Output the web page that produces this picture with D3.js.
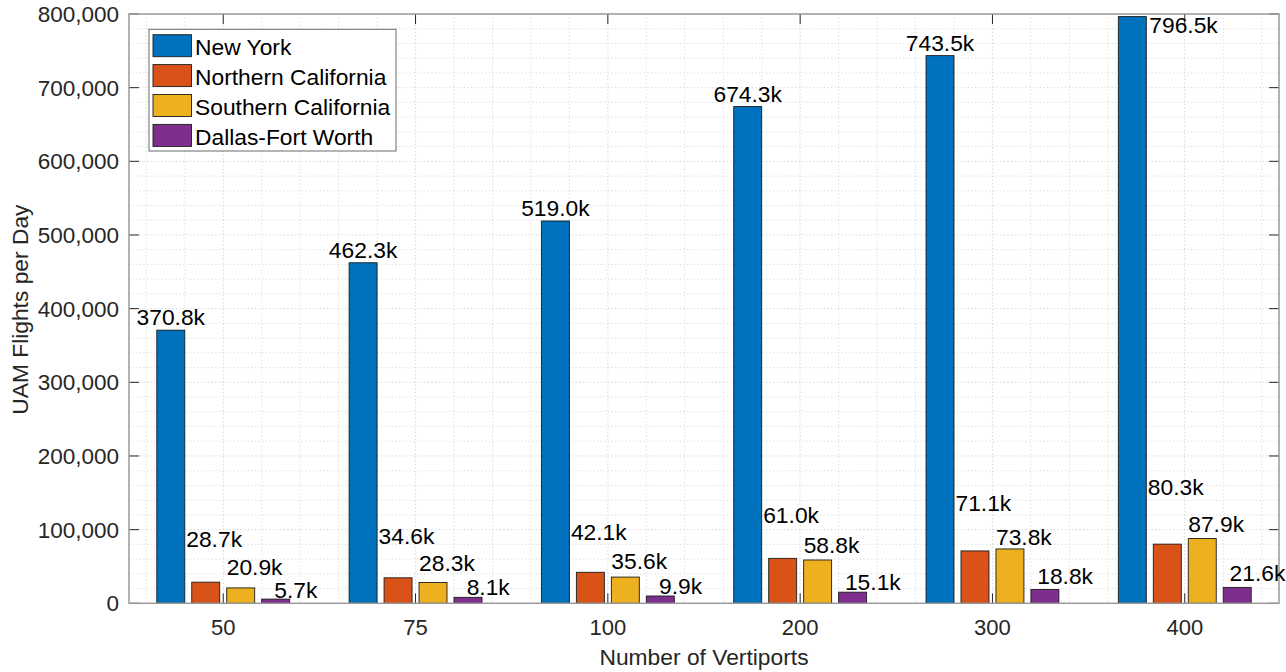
<!DOCTYPE html>
<html>
<head>
<meta charset="utf-8">
<script src="https://cdn.jsdelivr.net/npm/d3@7"></script>
<style>
  html, body { margin: 0; padding: 0; background: #fff; }
  svg { display: block; font-family: "Liberation Sans", Arial, Helvetica, sans-serif; }
</style>
</head>
<body>
<svg id="chart" width="1286" height="672"></svg>
<script>
// ---------------- data ----------------
const categories = ["50", "75", "100", "200", "300", "400"];
const seriesNames = ["New York", "Northern California", "Southern California", "Dallas-Fort Worth"];
const newYork = [370800, 462300, 519000, 674300, 743500, 796500];
const northernCalifornia = [28700, 34600, 42100, 61000, 71100, 80300];
const southernCalifornia = [20900, 28300, 35600, 58800, 73800, 87900];
const dallasFortWorth = [5700, 8100, 9900, 15100, 18800, 21600];
const yTickValues = [0, 100000, 200000, 300000, 400000, 500000, 600000, 700000, 800000];

// label baselines (in flights)
const newYorkLabelAt = [377500, 469200, 525400, 681200, 750200, 773800];
const northernLabelAt = [76800, 80100, 85900, 109400, 125300, 147000];
const southernLabelAt = [38400, 43900, 46600, 67900, 79100, 96400];
const dallasLabelAt = [7600, 10900, 12600, 18100, 25800, 30700];

const seriesValues = [newYork, northernCalifornia, southernCalifornia, dallasFortWorth];
const labelAt = [newYorkLabelAt, northernLabelAt, southernLabelAt, dallasLabelAt];
const colors = ["#0072BD", "#D95319", "#EDB120", "#7E2F8E"];

// ---------------- layout ----------------
const W = 1286, H = 672;
const plot = { left: 129, right: 1279, top: 14, bottom: 603.3 };
const svg = d3.select("#chart");

const x = d3.scaleLinear().domain([0.51, 6.49]).range([plot.left, plot.right]);
const y = d3.scaleLinear().domain([0, 800000]).range([plot.bottom, plot.top]);

const nS = seriesNames.length;
const groupWidth = Math.min(0.8, nS / (nS + 1.5));
const step = groupWidth / nS;
const barW = 0.8 * step;
const offset = s => (s - (nS - 1) / 2) * step;

// ---------------- grid ----------------
const grid = svg.append("g");
const minorY = d3.range(0, 800001, 20000).filter(v => v % 100000 !== 0);
const minorX = d3.range(0.6, 6.45, 0.2).filter(v => Math.abs(v - Math.round(v)) > 0.01);
grid.selectAll(".my").data(minorY).join("line")
  .attr("x1", plot.left).attr("x2", plot.right)
  .attr("y1", d => y(d)).attr("y2", d => y(d))
  .attr("stroke", "#d9d9d9").attr("stroke-width", 1).attr("stroke-dasharray", "1.2,2.4");
grid.selectAll(".mx").data(minorX).join("line")
  .attr("y1", plot.top).attr("y2", plot.bottom)
  .attr("x1", d => x(d)).attr("x2", d => x(d))
  .attr("stroke", "#d9d9d9").attr("stroke-width", 1).attr("stroke-dasharray", "1.2,2.4");
grid.selectAll(".Mx").data(categories.map((c, i) => i + 1)).join("line")
  .attr("y1", plot.top).attr("y2", plot.bottom)
  .attr("x1", d => x(d)).attr("x2", d => x(d))
  .attr("stroke", "#d0d0d0").attr("stroke-width", 1).attr("stroke-dasharray", "1.2,2.4");
grid.selectAll(".My").data(yTickValues).join("line")
  .attr("x1", plot.left).attr("x2", plot.right)
  .attr("y1", d => y(d)).attr("y2", d => y(d))
  .attr("stroke", "#d0d0d0").attr("stroke-width", 1).attr("stroke-dasharray", "1.2,2.4");

// ---------------- bars ----------------
const barsG = svg.append("g");
seriesValues.forEach((vals, s) => {
  barsG.append("g").selectAll("rect").data(vals).join("rect")
    .attr("x", (d, i) => x(i + 1 + offset(s) - barW / 2))
    .attr("width", x(barW) - x(0))
    .attr("y", d => y(d))
    .attr("height", d => y(0) - y(d))
    .attr("fill", colors[s])
    .attr("stroke", "#1c1c1c").attr("stroke-width", 0.9);
});

// ---------------- axes ----------------
const axG = svg.append("g");
const tickLen = 10;
const tickColor = "#262626";
// y ticks (left + right)
yTickValues.forEach(v => {
  axG.append("line").attr("x1", plot.left).attr("x2", plot.left + tickLen)
    .attr("y1", y(v)).attr("y2", y(v)).attr("stroke", tickColor).attr("stroke-width", 1);
  axG.append("line").attr("x1", plot.right - tickLen).attr("x2", plot.right)
    .attr("y1", y(v)).attr("y2", y(v)).attr("stroke", tickColor).attr("stroke-width", 1);
});
// x ticks (bottom + top)
categories.forEach((c, i) => {
  axG.append("line").attr("x1", x(i + 1)).attr("x2", x(i + 1))
    .attr("y1", plot.bottom).attr("y2", plot.bottom - tickLen).attr("stroke", tickColor).attr("stroke-width", 1);
  axG.append("line").attr("x1", x(i + 1)).attr("x2", x(i + 1))
    .attr("y1", plot.top).attr("y2", plot.top + tickLen).attr("stroke", tickColor).attr("stroke-width", 1);
});
axG.append("rect")
  .attr("x", plot.left).attr("y", plot.top)
  .attr("width", plot.right - plot.left).attr("height", plot.bottom - plot.top)
  .attr("fill", "none").attr("stroke", "#9a9a9a").attr("stroke-width", 1.5);

// tick labels
const fmt = d3.format(",");
axG.selectAll(".ytl").data(yTickValues).join("text")
  .attr("x", plot.left - 10).attr("y", d => y(d)).attr("dy", "0.35em")
  .attr("text-anchor", "end").attr("font-size", "22.5px").attr("fill", "#262626")
  .text(d => fmt(d));
axG.selectAll(".xtl").data(categories).join("text")
  .attr("x", (d, i) => x(i + 1)).attr("y", 635)
  .attr("text-anchor", "middle").attr("font-size", "22px").attr("fill", "#262626")
  .text(d => d);

// axis titles
svg.append("text")
  .attr("x", (plot.left + plot.right) / 2).attr("y", 664.5)
  .attr("text-anchor", "middle").attr("font-size", "22.8px").attr("fill", "#262626")
  .text("Number of Vertiports");
svg.append("text")
  .attr("transform", `translate(28.3,${(plot.top + plot.bottom) / 2 + 1}) rotate(-90)`)
  .attr("text-anchor", "middle").attr("font-size", "22.8px").attr("fill", "#262626")
  .text("UAM Flights per Day");

// ---------------- value labels ----------------
const labG = svg.append("g").attr("font-size", "22.8px").attr("fill", "#000");
const kfmt = v => (v / 1000).toFixed(1) + "k";
const NBSP = "\u00A0";
seriesValues.forEach((vals, s) => {
  vals.forEach((v, i) => {
    const left = i + 1 + offset(s) - barW / 2;
    const right = i + 1 + offset(s) + barW / 2;
    let xPos, anchor, txt = kfmt(v);
    if (s === 0) {
      if (i === vals.length - 1) { xPos = x(right) + 3; anchor = "start"; }
      else { xPos = x(i + 1 + offset(s)); anchor = "middle"; }
    } else if (s === 1) {
      xPos = x(i + 1 + offset(0) + barW / 2) + 1.5; anchor = "start";
    } else if (s === 2) {
      xPos = x(left); anchor = "start";
    } else {
      xPos = x(left); anchor = "start";
      txt = txt.padStart(6, NBSP);
    }
    labG.append("text")
      .attr("x", xPos).attr("y", y(labelAt[s][i]))
      .attr("text-anchor", anchor)
      .text(txt);
  });
});

// ---------------- legend ----------------
const lg = svg.append("g");
lg.append("rect").attr("x", 149).attr("y", 29.3).attr("width", 247).attr("height", 121.7)
  .attr("fill", "#fff").attr("stroke", "#6a6a6a").attr("stroke-width", 1);
seriesNames.forEach((name, s) => {
  const top = 34.7 + s * 29.9;
  lg.append("rect").attr("x", 153).attr("y", top).attr("width", 38.5).attr("height", 22)
    .attr("fill", colors[s]).attr("stroke", "#1c1c1c").attr("stroke-width", 0.9);
  lg.append("text").attr("x", 195).attr("y", top + 20.3)
    .attr("font-size", "22.8px").attr("fill", "#000").text(name);
});
</script>
</body>
</html>
